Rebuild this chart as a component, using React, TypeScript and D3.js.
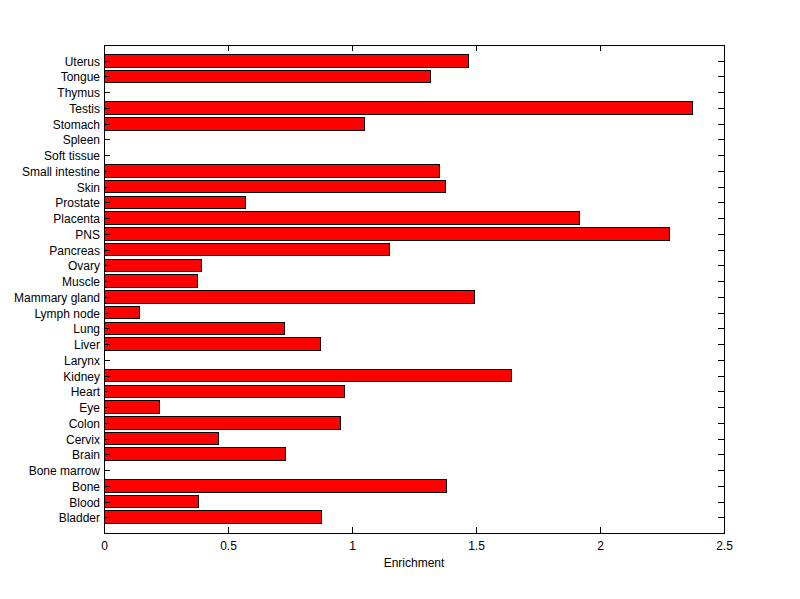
import React from "react";
import * as d3 from "d3";

const categories = [
  "Bladder", "Blood", "Bone", "Bone marrow", "Brain", "Cervix", "Colon", "Eye", "Heart", "Kidney",
  "Larynx", "Liver", "Lung", "Lymph node", "Mammary gland", "Muscle", "Ovary", "Pancreas", "PNS", "Placenta",
  "Prostate", "Skin", "Small intestine", "Soft tissue", "Spleen", "Stomach", "Testis", "Thymus", "Tongue", "Uterus",
];
const values = [
  0.875, 0.382, 1.383, 0, 0.73, 0.461, 0.952, 0.222, 0.968, 1.645,
  0, 0.871, 0.726, 0.145, 1.492, 0.379, 0.395, 1.153, 2.282, 1.919,
  0.569, 1.379, 1.351, 0, 0, 1.052, 2.371, 0, 1.315, 1.468,
];
const xTicks = [0, 0.5, 1, 1.5, 2, 2.5];
const xLabel = "Enrichment";

export default function App() {
  const W = 800, H = 599;
  const left = 104, right = 724, top = 45, bottom = 533;
  const x = d3.scaleLinear().domain([0, 2.5]).range([left, right]);
  const y = d3.scaleLinear().domain([0, categories.length + 1]).range([bottom, top]);
  const bh = (y(0) - y(0.8));
  const font = "Liberation Sans, Arial, sans-serif";
  return (
    <svg width={W} height={H} style={{ position: "absolute", left: 0, top: 0, background: "#fff" }}>
      <rect x={0} y={0} width={W} height={H} fill="#fff" />
      {categories.map((c, i) => {
        const v = values[i];
        const yc = y(i + 1);
        return (
          <g key={c}>
            {v > 0 && (
              <rect x={x(0)} y={yc - bh / 2} width={x(v) - x(0)} height={bh}
                fill="#ff0000" stroke="#000" strokeWidth={1} shapeRendering="crispEdges" />
            )}
          </g>
        );
      })}
      {categories.map((c, i) => {
        const yc = Math.round(y(i + 1)) + 0.5;
        return (
          <g key={"t" + c}>
            <line x1={left} x2={left + 6} y1={yc} y2={yc} stroke="#000" />
            <line x1={right - 6} x2={right} y1={yc} y2={yc} stroke="#000" />
            <text x={left - 4} y={yc} dy="0.35em" textAnchor="end" fontSize={12} fontFamily={font}>{c}</text>
          </g>
        );
      })}
      {xTicks.map((t) => {
        const xx = Math.round(x(t)) + 0.5;
        return (
          <g key={"x" + t}>
            <line x1={xx} x2={xx} y1={bottom} y2={bottom - 6} stroke="#000" />
            <line x1={xx} x2={xx} y1={top} y2={top + 6} stroke="#000" />
            <text x={xx} y={bottom + 17} textAnchor="middle" fontSize={12} fontFamily={font}>{String(t)}</text>
          </g>
        );
      })}
      <rect x={left + 0.5} y={top + 0.5} width={right - left} height={bottom - top} fill="none" stroke="#000" strokeWidth={1} />
      <text x={(left + right) / 2} y={bottom + 34} textAnchor="middle" fontSize={12} fontFamily={font}>{xLabel}</text>
    </svg>
  );
}
